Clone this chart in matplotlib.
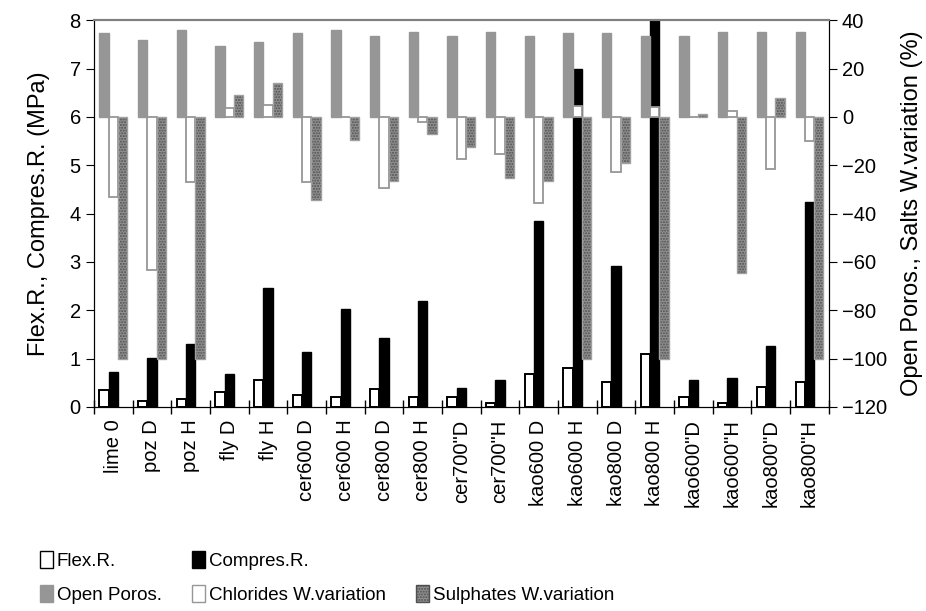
import numpy as np
import matplotlib.pyplot as plt
from matplotlib.patches import Patch

cats = ['lime 0', 'poz D', 'poz H', 'fly D', 'fly H', 'cer600 D', 'cer600 H',
        'cer800 D', 'cer800 H', 'cer700"D', 'cer700"H', 'kao600 D', 'kao600 H',
        'kao800 D', 'kao800 H', 'kao600"D', 'kao600"H', 'kao800"D', 'kao800"H']

# left axis (MPa)
flex = [0.34, 0.13, 0.17, 0.30, 0.55, 0.25, 0.21, 0.38, 0.21, 0.21, 0.09,
        0.68, 0.80, 0.51, 1.09, 0.21, 0.09, 0.42, 0.51]
compres = [0.72, 1.01, 1.30, 0.68, 2.45, 1.13, 2.03, 1.42, 2.20, 0.39, 0.56,
           3.85, 7.0, 2.91, 8.3, 0.56, 0.60, 1.26, 4.23]

# right axis (%)
poros = [34.5, 32, 36, 29.5, 31, 34.5, 36, 33.5, 35, 33.5, 35, 33.5, 34.5,
         34.5, 33.5, 33.5, 35, 35, 35]
chlorides = [-33, -63.5, -27, 3.5, 5, -27, 0, -29.5, -2, -17.5, -15.5,
             -35.5, 4.5, -23, 4, 0, 2.5, -21.5, -10]
sulphates = [-100, -100, -100, 9, 14, -34.5, -9.5, -26.5, -7, -12.5, -25.5,
             -26.5, -100, -19, -100, 1, -64.5, 8, -100]

plt.rcParams['font.family'] = ['Liberation Sans', 'DejaVu Sans']

fig = plt.figure(figsize=(9.26, 6.11), dpi=100)
ax = fig.add_axes([0.1015, 0.334, 0.7935, 0.633])
ax2 = ax.twinx()

x = np.arange(len(cats))
w = 0.24

ax.bar(x - w, flex, w, color='white', edgecolor='black', lw=1.4)
ax.bar(x, compres, w, color='black', edgecolor='black', lw=1)

ax2.bar(x - w, poros, w, color='#969696', edgecolor='#969696', lw=1)
ax2.bar(x, chlorides, w, color='white', edgecolor='#969696', lw=1.3)
ax2.bar(x + w, sulphates, w, color='#909090', edgecolor='#505050', hatch='......', lw=0)
ax2.bar(x + w, sulphates, w, fill=False, edgecolor='#a0a0a0', lw=1)

ax.set_xlim(-0.5, len(cats) - 0.5)
ax.set_ylim(0, 8)
ax2.set_ylim(-120, 40)
ax2.set_yticks(np.arange(-120, 41, 20))

ax.set_xticks(np.arange(-0.5, len(cats), 1))
ax.set_xticklabels([])
ax.tick_params(axis='x', which='major', direction='inout', length=10, width=1)
ax.set_xticks(x, minor=True)
ax.set_xticklabels(cats, minor=True, rotation=90, fontsize=14.5)
ax.tick_params(axis='x', which='minor', length=0, pad=9)

ax.tick_params(axis='y', direction='out', length=6, labelsize=14.5)
ax2.tick_params(axis='y', direction='out', length=6, labelsize=14.5)

for a in (ax, ax2):
    a.spines['top'].set_color('#808080')
    a.spines['top'].set_linewidth(1.5)
    a.spines['left'].set_color('black')
    a.spines['right'].set_color('black')
    a.spines['bottom'].set_color('black')

ax.set_ylabel('Flex.R., Compres.R. (MPa)', fontsize=17, labelpad=14)
ax2.set_ylabel('Open Poros., Salts W.variation (%)', fontsize=17, labelpad=10)

handles = [Patch(facecolor='white', edgecolor='black'),
           Patch(facecolor='#969696', edgecolor='#969696'),
           Patch(facecolor='black', edgecolor='black'),
           Patch(facecolor='white', edgecolor='#969696'),
           Patch(visible=False),
           Patch(facecolor='#909090', edgecolor='#505050', hatch='......')]
labels = ['Flex.R.', 'Open Poros.', 'Compres.R.', 'Chlorides W.variation', '',
          'Sulphates W.variation']
fig.legend(handles, labels, ncol=3, loc='upper left', bbox_to_anchor=(0.035, 0.11),
           frameon=False, fontsize=13.5, handlelength=0.7, handleheight=1.0,
           handletextpad=0.2, columnspacing=1.6, labelspacing=0.8, borderaxespad=0)

fig.savefig('out.png', dpi=100)
